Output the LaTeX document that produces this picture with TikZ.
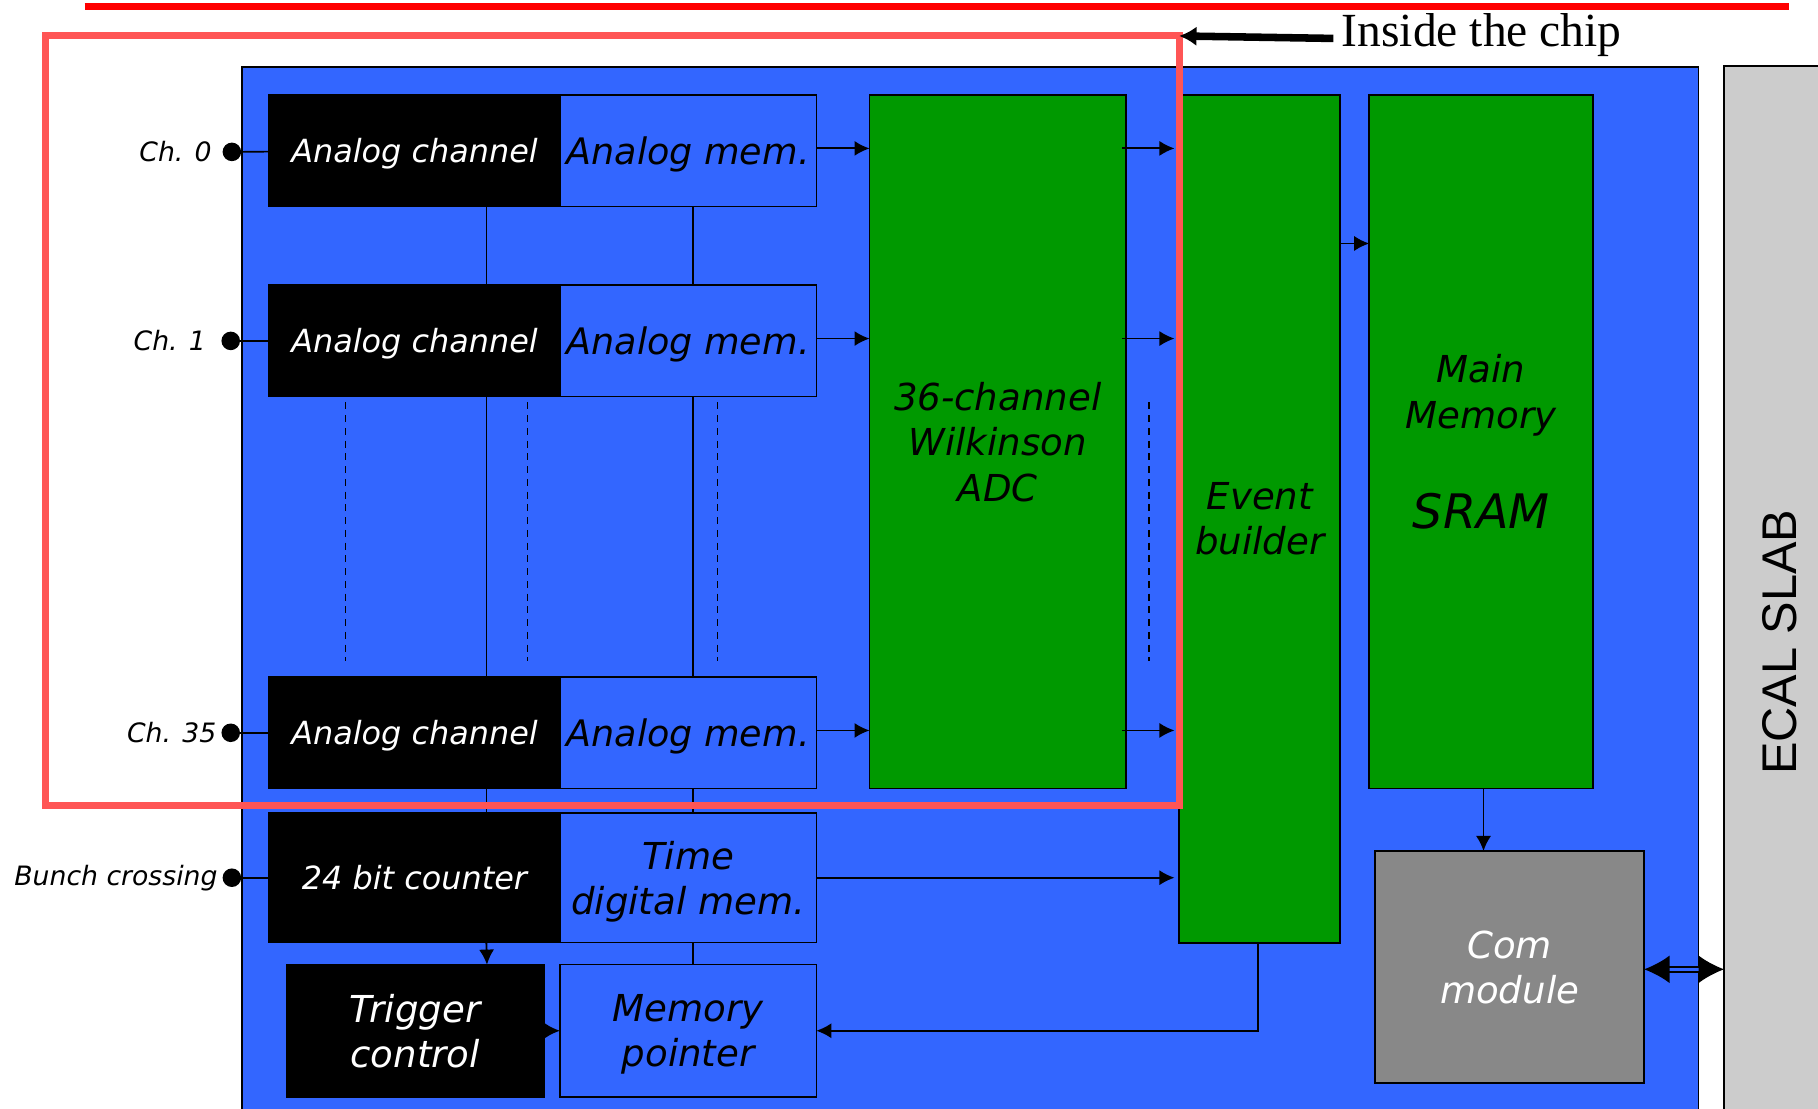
\documentclass[tikz,border=0pt]{standalone}
\usepackage{fontspec}
\setmainfont{DejaVu Sans}
\newfontfamily\chipfont{DejaVu Sans}
\newfontfamily\notefont{Liberation Serif}
\newfontfamily\slabfont{Liberation Sans}
\usepackage{tikz}
\usetikzlibrary{
  arrows.meta,
  positioning,
  calc
}
\definecolor{ChipBlue}{HTML}{3366FF}
\definecolor{BlockGreen}{HTML}{009900}
\definecolor{SlabGray}{HTML}{CCCCCC}
\definecolor{ComGray}{HTML}{888888}
\definecolor{ZoneRed}{HTML}{FF5555}
\definecolor{LineRed}{HTML}{FF0000}
\tikzset{
  block/.style={
    draw=black,
    line width=1.3pt,
    outer sep=0pt,
    inner sep=0pt,
    align=center,
    text depth=0pt,
    font=\chipfont\itshape\fontsize{32}{39}\selectfont
  },
  channel/.style={
    block,
    fill=black,
    text=white,
    minimum width=251pt,
    minimum height=96pt,
    font=\chipfont\itshape\fontsize{27.5}{33}\selectfont
  },
  memory/.style={
    block,
    fill=ChipBlue,
    minimum width=221pt,
    minimum height=96pt
  },
  analogmem/.style={
    memory,
    font=\chipfont\itshape\fontsize{31.5}{36}\selectfont
  },
  logic/.style={
    block,
    fill=BlockGreen,
    line width=1.5pt
  },
  combox/.style={
    block,
    fill=ComGray,
    text=white,
    line width=1.5pt
  },
  slab/.style={
    draw=black,
    line width=1.3pt,
    fill=SlabGray,
    outer sep=0pt,
    minimum width=96pt,
    minimum height=994pt
  },
  pad/.style={
    circle,
    fill=black,
    inner sep=0pt,
    minimum size=16pt
  },
  padlabel/.style={
    inner sep=0pt,
    font=\chipfont\itshape\fontsize{23}{27}\selectfont
  },
  wire/.style={
    line width=1.4pt
  },
  flow/.style={
    -{Latex[length=13pt,width=13pt]},
    line width=1.6pt
  },
  skipped/.style={
    line width=1.3pt,
    dash pattern=on 6pt off 5pt
  }
}

\begin{document}
\begin{tikzpicture}[
  x=1pt,
  y=-1pt
]

  \clip (0,0) rectangle (1568,956);
  \fill[white] (0,0) rectangle (1568,956);

  % chip body and detector slab
  \draw[
    fill=ChipBlue,
    line width=1.5pt
  ]
  (209,58) rectangle
  (1465,1000);

  \node[
    slab,
    anchor=north west
  ] (ecal) at (1487,57) {};
  \node[
    rotate=90,
    font=\slabfont\fontsize{42}{48}\selectfont
  ] (ecaltext) at (ecal.center) {ECAL SLAB};

  % analog channels
  \node[
    channel,
    anchor=north west
  ] (chA) at (232,82) {Analog channel};
  \node[
    analogmem,
    right=0pt of chA
  ] (memA) {Analog mem.};

  \node[
    channel,
    anchor=north west
  ] (chB) at (232,246) {Analog channel};
  \node[
    analogmem,
    right=0pt of chB
  ] (memB) {Analog mem.};

  \node[
    channel,
    anchor=north west
  ] (chC) at (232,584) {Analog channel};
  \node[
    analogmem,
    right=0pt of chC
  ] (memC) {Analog mem.};

  % time stamp and trigger
  \node[
    channel,
    anchor=north west,
    minimum height=112pt
  ] (counter) at (232,701) {24 bit counter};
  \node[
    memory,
    right=0pt of counter,
    minimum height=112pt
  ] (timemem) {Time\\digital mem.};

  \node[
    channel,
    anchor=north west,
    minimum width=222pt,
    minimum height=114pt,
    font=\chipfont\itshape\fontsize{32}{39}\selectfont
  ] (trigger) at (247,832) {Trigger\\control};
  \node[
    memory,
    anchor=north west,
    minimum height=114pt
  ] (pointer) at (483,832) {Memory\\pointer};

  % digital part
  \node[
    logic,
    anchor=north west,
    minimum width=221pt,
    minimum height=598pt
  ] (adc) at (750,82) {36-channel\\Wilkinson\\ADC};
  \node[
    logic,
    anchor=north west,
    minimum width=139pt,
    minimum height=731pt
  ] (builder) at (1017,82) {Event\\builder};
  \node[
    logic,
    anchor=north west,
    minimum width=193pt,
    minimum height=598pt
  ] (sram) at (1181,82) {Main\\Memory\\[48pt]{\fontsize{41}{48}\selectfont SRAM}};
  \node[
    combox,
    anchor=north west,
    minimum width=232pt,
    minimum height=200pt
  ] (com) at (1186,734) {Com\\module};

  % inputs
  \node[pad] (padA) at (200,131) {};
  \node[pad] (padB) at (199,294) {};
  \node[pad] (padC) at (199,632) {};
  \node[pad] (padX) at (200,757) {};

  \node[
    padlabel,
    left=9pt of padA
  ] (labA) {
    Ch. 0
  };
  \node[
    padlabel,
    left=13pt of padB
  ] (labB) {
    Ch. 1
  };
  \node[
    padlabel,
    left=4pt of padC
  ] (labC) {
    Ch. 35
  };
  \node[
    padlabel,
    left=4pt of padX
  ] (labX) {
    Bunch crossing
  };

  \draw[wire] (padA) -- (chA);
  \draw[wire] (padB) -- (chB);
  \draw[wire] (padC) -- (chC);
  \draw[wire] (padX) -- (counter);

  % common lines between channels
  \draw[wire] ([xshift=62pt]chA.south) -- ([xshift=62pt]chB.north);
  \draw[wire] ([xshift=62pt]chB.south) -- ([xshift=62pt]chC.north);
  \draw[wire] ([xshift=62pt]chC.south) -- ([xshift=62pt]counter.north);
  \draw[wire] ([xshift=4pt]memA.south) -- ([xshift=4pt]memB.north);
  \draw[wire] ([xshift=4pt]memB.south) -- ([xshift=4pt]memC.north);
  \draw[wire] ([xshift=4pt]memC.south) -- ([xshift=4pt]timemem.north);
  \draw[wire] ([xshift=4pt]timemem.south) -- ([xshift=4pt]pointer.north);

  \foreach \x in {298,455,619,991}
    \draw[skipped] (\x,347) -- (\x,570);

  % data flow
  \draw[flow] ([yshift=2pt]memA.east) -- ([yshift=2pt]memA.east -| adc.west);
  \draw[flow] ([yshift=2pt]memB.east) -- ([yshift=2pt]memB.east -| adc.west);
  \draw[flow] ([yshift=2pt]memC.east) -- ([yshift=2pt]memC.east -| adc.west);
  \draw[flow] ([yshift=2pt,xshift=-3pt]memA.east -| adc.east) -- ([yshift=2pt,xshift=-4pt]memA.east -| builder.west);
  \draw[flow] ([yshift=2pt,xshift=-3pt]memB.east -| adc.east) -- ([yshift=2pt,xshift=-4pt]memB.east -| builder.west);
  \draw[flow] ([yshift=2pt,xshift=-3pt]memC.east -| adc.east) -- ([yshift=2pt,xshift=-4pt]memC.east -| builder.west);
  \draw[flow] ([yshift=-128pt]builder.north east) -- ([yshift=-128pt]builder.north east -| sram.west);
  \draw[flow] (timemem.east) -- ([xshift=-4pt]timemem.east -| builder.west);
  \draw[flow] ([xshift=2pt]sram.south) -- ([xshift=2pt]sram.south |- com.north);
  \draw[flow] ([xshift=62pt]counter.south) -- ([xshift=62pt]trigger.north);
  \draw[flow] (trigger.east) -- (pointer.west);
  \draw[flow] ([xshift=-1.5pt]builder.south) |- (pointer.east);

  \draw[
    {Latex[length=22pt,width=24pt]}-{Latex[length=22pt,width=24pt]},
    line width=1.5pt,
    double=ChipBlue,
    double distance=3pt
  ]
  ([yshift=-2pt]com.east) --
  ([yshift=-2pt]com.east -| ecal.west);

  % chip boundary
  \draw[
    ZoneRed,
    line width=6pt
  ]
  (39,31) rectangle
  (1017,695);
  \coordinate (zonecorner) at (1017,31);

  \draw[
    LineRed,
    line width=5.5pt
  ]
  (73,5.5) --
  (1543,5.5);

  \node[
    anchor=base west,
    inner sep=0pt,
    font=\notefont\fontsize{41}{48}\selectfont
  ] (insidenote) at (1157,40) {Inside the chip};
  \draw[
    -{Latex[length=15pt,width=17pt]},
    line width=6.5pt
  ]
  ([xshift=-7pt,yshift=-3pt]insidenote.west) --
  (zonecorner);

\end{tikzpicture}
\end{document}
